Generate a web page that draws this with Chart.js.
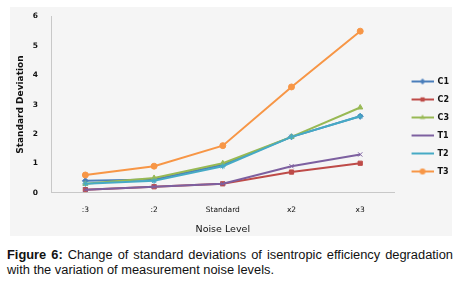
<!DOCTYPE html>
<html>
<head>
<meta charset="utf-8">
<script src="https://cdn.jsdelivr.net/npm/chart.js@4.4.1/dist/chart.umd.min.js"></script>
<style>
  body { margin: 0; background: #fff; width: 462px; height: 283px; overflow: hidden; }
  #panel { position: absolute; left: 10px; top: 7px; width: 442px; height: 229px; background: #f5f5f5; }
  #caption { position: absolute; left: 7px; top: 247px; width: 446px; font-family: "Liberation Sans", Arial, sans-serif;
    font-size: 12.85px; line-height: 15px; color: #111; }
  #caption .l1 { text-align: justify; text-align-last: justify; white-space: nowrap; }
</style>
</head>
<body>
<div id="panel"><canvas id="plot" width="442" height="229"></canvas></div>
<div id="caption"><div class="l1"><b>Figure 6:</b> Change of standard deviations of isentropic efficiency degradation</div><div>with the variation of measurement noise levels.</div></div>
<script>
// data
const noiseLevels = [':3', ':2', 'Standard', 'x2', 'x3'];
const c1 = [0.4, 0.45, 0.95, 1.9, 2.6];
const c2 = [0.1, 0.2, 0.3, 0.7, 1.0];
const c3 = [0.3, 0.5, 1.0, 1.9, 2.9];
const t1 = [0.1, 0.2, 0.3, 0.9, 1.3];
const t2 = [0.3, 0.4, 0.9, 1.9, 2.6];
const t3 = [0.6, 0.9, 1.6, 3.6, 5.5];

const series = [
  { label: 'C1', data: c1, color: '#4a7ebb', marker: 'rectRot', order: 5 },
  { label: 'C2', data: c2, color: '#be4b48', marker: 'rect', order: 4 },
  { label: 'C3', data: c3, color: '#98b954', marker: 'triangle', order: 3 },
  { label: 'T1', data: t1, color: '#7d60a0', marker: 'crossRot', order: 2 },
  { label: 'T2', data: t2, color: '#46aac5', marker: 'star', order: 1 },
  { label: 'T3', data: t3, color: '#f79646', marker: 'circle', order: 0 }
];

// little line + marker picture for the legend (blank strip on the left as a gap)
const legendIcon = (s) => {
  const c = document.createElement('canvas');
  c.width = 29; c.height = 8;
  const ctx = c.getContext('2d');
  ctx.strokeStyle = s.color;
  ctx.lineWidth = 2;
  ctx.beginPath(); ctx.moveTo(7, 4); ctx.lineTo(29, 4); ctx.stroke();
  ctx.fillStyle = s.color;
  ctx.lineWidth = 1;
  Chart.helpers.drawPoint(ctx, { pointStyle: s.marker, radius: 3, rotation: 0 }, 18, 4);
  return c;
};

const chartEl = document.getElementById('plot').getContext('2d');
const lineChart = new Chart(chartEl, {
  type: 'line',
  data: {
    labels: noiseLevels,
    datasets: series.map((s) => ({
      label: s.label,
      data: s.data,
      borderColor: s.color,
      backgroundColor: s.color,
      borderWidth: 2,
      pointStyle: s.marker,
      pointRadius: 3,
      pointBorderWidth: 1,
      order: s.order
    }))
  },
  options: {
    responsive: false,
    animation: false,
    devicePixelRatio: 1,
    // negative right padding lets the legend's own right padding run off the panel
    layout: { padding: { top: 2, right: -7, left: 3, bottom: 0 } },
    plugins: {
      tooltip: { enabled: false },
      legend: {
        position: 'right',
        title: { display: true, text: '', font: { size: 5 }, padding: 1 },
        labels: {
          usePointStyle: true,
          pointStyleWidth: 29,
          padding: 10,
          color: '#111',
          font: { family: 'DejaVu Sans', size: 8, weight: 'bold' },
          generateLabels: () => series.map((s, i) => ({
            text: s.label, datasetIndex: i, pointStyle: legendIcon(s),
            fillStyle: s.color, strokeStyle: s.color, lineWidth: 0, fontColor: '#111'
          }))
        }
      }
    },
    scales: {
      x: {
        offset: true,
        grid: { display: false },
        border: { color: '#c8c8c8' },
        ticks: { color: '#111', maxRotation: 0, autoSkip: false, font: { family: 'DejaVu Sans', size: 7.5 }, padding: 5 },
        title: { display: true, text: 'Noise Level', color: '#111', font: { family: 'DejaVu Sans', size: 9.5 }, padding: { top: 4, bottom: 1 } }
      },
      y: {
        min: 0, max: 6,
        grid: { display: false },
        border: { color: '#c8c8c8' },
        ticks: { stepSize: 1, color: '#111', font: { family: 'DejaVu Sans', size: 7.5, weight: 'bold' }, padding: 5 },
        title: { display: true, text: 'Standard Deviation', color: '#111', font: { family: 'DejaVu Sans', size: 9, weight: 'bold' }, padding: { top: 2, bottom: 2 } }
      }
    }
  }
});
</script>
</body>
</html>
